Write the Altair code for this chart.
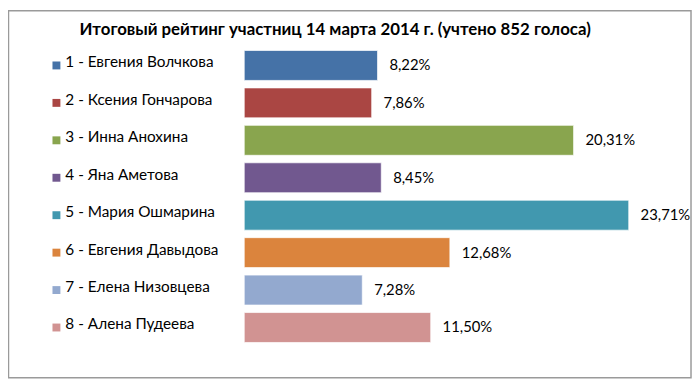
import altair as alt
import pandas as pd

names = [
    "1 - Евгения Волчкова",
    "2 - Ксения Гончарова",
    "3 - Инна Анохина",
    "4 - Яна Аметова",
    "5 - Мария Ошмарина",
    "6 - Евгения Давыдова",
    "7 - Елена Низовцева",
    "8 - Алена Пудеева",
]
values = [8.22, 7.86, 20.31, 8.45, 23.71, 12.68, 7.28, 11.50]
colors = ["#4572A7", "#AA4643", "#89A54E", "#71588F", "#4198AF", "#DB843D", "#93A9CF", "#D19392"]
title_text = "Итоговый рейтинг участниц 14 марта 2014 г. (учтено 852 голоса)"

df = pd.DataFrame({
    "name": names,
    "value": values,
    "label": [f"{v:.2f}".replace(".", ",") + "%" for v in values],
})

FONT = "Lato"
W, H = 389, 303

y_enc = alt.Y("name:N", sort=names, axis=None,
              scale=alt.Scale(paddingInner=0.2, paddingOuter=0.1))
color_enc = alt.Color("name:N", sort=names,
                      scale=alt.Scale(domain=names, range=colors), legend=None)

base = alt.Chart(df)

bars = base.mark_bar(stroke="white", strokeWidth=1, strokeOpacity=0.7).encode(
    x=alt.X("value:Q", axis=None, scale=alt.Scale(domain=[0, 23.71], nice=False)),
    y=y_enc,
    color=color_enc,
)

vals = base.mark_text(align="left", baseline="middle", dx=12, font=FONT,
                      fontSize=15, color="#000000").encode(
    x="value:Q", y=y_enc, text="label:N")

squares = base.mark_square(size=64, opacity=1).encode(
    x=alt.value(-190), y=y_enc, color=color_enc)

labels = base.mark_text(align="left", baseline="middle", dy=-3, font=FONT,
                        fontSize=15.5, color="#000000").encode(
    x=alt.value(-181), y=y_enc, text="name:N")

one = pd.DataFrame({"t": [title_text]})
title = alt.Chart(one).mark_text(align="center", baseline="middle", font=FONT,
                                 fontSize=17, fontWeight="bold", color="#000000").encode(
    x=alt.value(92), y=alt.value(-17), text="t:N")

border = alt.Chart(one).mark_rect(fill=None, stroke="#9a9a9a", strokeWidth=1.5).encode(
    x=alt.value(-238.5), x2=alt.value(452), y=alt.value(-36.5), y2=alt.value(335))

chart = alt.layer(border, bars, vals, squares, labels, title).properties(
    width=W, height=H,
    autosize=alt.AutoSizeParams(type="none"),
    padding={"left": 239, "top": 37, "right": 64, "bottom": 33},
).configure_view(stroke=None)

chart.save("out.html", embed_options={"renderer": "svg", "actions": False})
